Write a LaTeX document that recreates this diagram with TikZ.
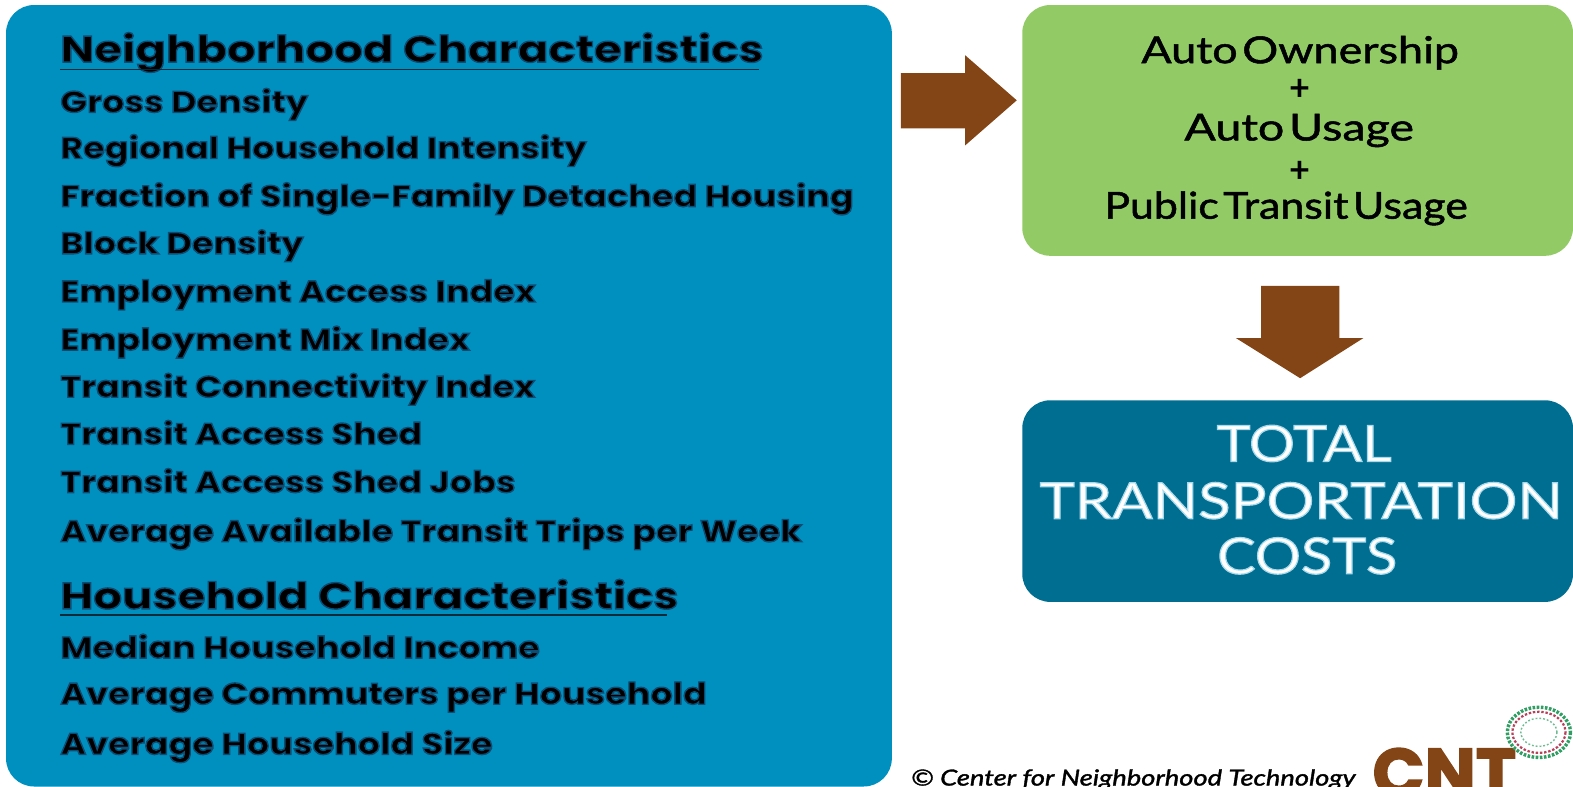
\documentclass[tikz,border=0pt]{standalone}
\usepackage{fontspec}
\setmainfont{Lato}
\newfontfamily\greenA{Lato}[WordSpace=0.4,FakeStretch=1.21]
\newfontfamily\greenB{Lato}[WordSpace=0.4,FakeStretch=1.255]
\newfontfamily\greenC{Lato}[WordSpace=0.4,FakeStretch=1.155]
\newfontfamily\tealfont{Lato}[FakeStretch=1.148]
\newfontfamily\tealwide{Lato}[FakeStretch=1.19]
\newfontfamily\copyfont{Lato}[FakeStretch=1.238]
\newfontfamily\headfont{Poppins}[FakeStretch=1.215]
\newfontfamily\itemfont{Poppins}[FakeStretch=1.165]
\newfontfamily\logofont{Poppins}
\newcommand{\halo}[2]{\special{pdf:code q 2 Tr #1 w #2 RG}}
\newcommand{\unhalo}{\special{pdf:code Q}}
\newcommand{\darkhalo}[1]{\halo{1.4}{0.05 0.3 0.45}#1\unhalo}
\newcommand{\glowtext}[1]{\halo{1.2}{0.65 0.85 0.92}#1\unhalo}
\newcommand{\inkbold}[1]{\halo{0.5}{0 0 0}#1\unhalo}
\definecolor{panelblue}{HTML}{0090C0}
\definecolor{leafgreen}{HTML}{92CB66}
\definecolor{deepteal}{HTML}{006E90}
\definecolor{arrowbrown}{HTML}{834515}
\definecolor{ringgreen}{HTML}{2E9E62}
\definecolor{ringred}{HTML}{B8405A}
\tikzset{
  x=1pt,y=-1pt,
  panel/.style={draw=none,rounded corners=28pt},
  item/.style={anchor=base west,inner sep=0pt,font=\itemfont\bfseries\fontsize{30}{30}\selectfont},
  head/.style={anchor=base west,inner sep=0pt,font=\headfont\bfseries\fontsize{37}{37}\selectfont},
  greentext/.style={anchor=base,inner sep=0pt,font=\fontsize{37}{37}\selectfont},
  plustext/.style={anchor=base,inner sep=0pt,font=\bfseries\fontsize{36}{36}\selectfont},
  tealtext/.style={anchor=base,inner sep=0pt,text=white,font=\fontsize{50}{50}\selectfont},
  blockarrow/.style={fill=arrowbrown,draw=none},
}
\begin{document}
\begin{tikzpicture}
\useasboundingbox (0,0) rectangle (1568,784);
\fill[white] (0,0) rectangle (1568,784);
\path[panel,fill=panelblue] (6,5) rectangle (889,784);
\path[panel,fill=leafgreen] (1019,5) rectangle (1568,255);
\path[panel,fill=deepteal] (1019,399) rectangle (1568,600);

\fill[blockarrow] (898,73) -- (962,73) -- (962,55) -- (1013.5,100) -- (962,145) -- (962,128) -- (898,128) -- cycle;
\fill[blockarrow] (1257,285) -- (1335,285) -- (1335,337) -- (1359,337) -- (1296,377) -- (1232,337) -- (1257,337) -- cycle;

\foreach \nm/\yy/\tx in {
 a/112/Gross Density,
 b/158/Regional Household Intensity,
 c/206/Fraction of Single-Family Detached Housing,
 d/253/Block Density,
 e/301/Employment Access Index,
 f/349/Employment Mix Index,
 g/396/Transit Connectivity Index,
 h/443/Transit Access Shed,
 i/491/Transit Access Shed Jobs,
 j/540/Average Available Transit Trips per Week,
 k/656/Median Household Income,
 l/702/Average Commuters per Household,
 m/752/Average Household Size}
 {\node[item] (\nm) at (60,\yy) {\darkhalo{\tx}};}

\node[head] (nh) at (60,62) {\darkhalo{Neighborhood Characteristics}};
\node[head] (hh) at (60,607) {\darkhalo{Household Characteristics}};
\draw[line width=1.2pt,black!70!panelblue] (60,69) -- (757,69);
\draw[line width=1.2pt,black!70!panelblue] (60,613) -- (665,613);

\node[greentext] (g1) at (1296,63) {\greenA\inkbold{Auto Ownership}};
\node[plustext] (g2) at (1296,100) {+};
\node[greentext] (g3) at (1295,140) {\greenB\inkbold{Auto Usage}};
\node[plustext] (g4) at (1296,182) {+};
\node[greentext] (g5) at (1282,218) {\greenC\inkbold{Public Transit Usage}};

\node[tealtext] (t1) at (1300,460) {\tealfont\glowtext{TOTAL}};
\node[tealtext] (t2) at (1297,517) {\tealwide\glowtext{TRANSPORTATION}};
\node[tealtext] (t3) at (1303,572) {\tealfont\glowtext{COSTS}};

\node[anchor=base west,inner sep=0pt,font=\copyfont\itshape\fontsize{22}{22}\selectfont] (copy) at (908,783) {\halo{0.35}{0 0 0}© Center for Neighborhood Technology\unhalo};
\node[anchor=base west,inner sep=0pt,text=arrowbrown,font=\logofont\bfseries\fontsize{68}{68}\selectfont] (cnt) at (1368,794) {\halo{1.5}{0.514 0.27 0.082}CNT\unhalo};

\draw[ringgreen,line width=3.4pt,dash pattern=on 2.6pt off 1.5pt] (1534,730) ellipse (31.5 and 25);
\draw[ringred,line width=2.2pt,dash pattern=on 2.4pt off 1.8pt] (1534,730) ellipse (26.5 and 20.5);
\draw[ringgreen!70!white,line width=1.4pt,dash pattern=on 1.8pt off 2pt] (1534,730) ellipse (18 and 14);
\end{tikzpicture}
\end{document}
